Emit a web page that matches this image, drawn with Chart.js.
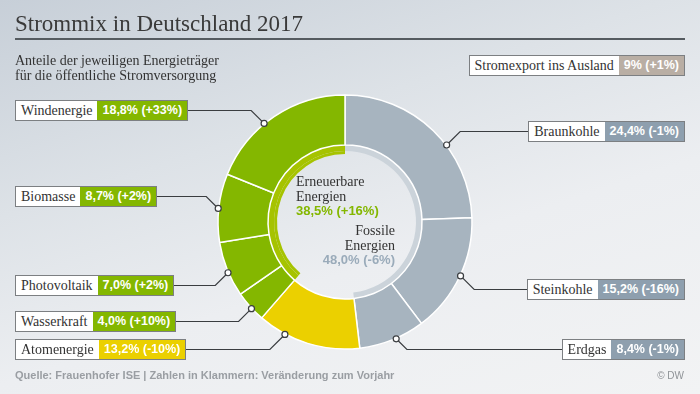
<!DOCTYPE html>
<html><head><meta charset="utf-8">
<script src="https://cdn.jsdelivr.net/npm/chart.js@4/dist/chart.umd.min.js"></script>
<style>
html,body{margin:0;padding:0;}
body{width:700px;height:394px;position:relative;overflow:hidden;
 background:linear-gradient(162deg,#c7cfd8 0%,#dde2e7 35%,#eceef1 62%,#f2f3f4 100%);
 font-family:"Liberation Serif",serif;color:#333;}
#c{position:absolute;left:0;top:0;}
.t{position:absolute;white-space:nowrap;}
#title{left:15px;top:12px;font-size:23px;line-height:23px;color:#3a3a3a;}
#rule{position:absolute;left:15px;top:38px;width:670px;height:2px;background:#555b60;}
#sub{left:15px;top:53px;font-size:14px;line-height:15px;color:#333;}
.box{position:absolute;height:21px;box-sizing:border-box;border:1px solid #7c7f82;display:flex;white-space:nowrap;}
.box .l{background:#fff;font-family:"Liberation Serif",serif;font-size:14px;line-height:19px;padding:0 5px;color:#333;}
.box .v{font-family:"Liberation Sans",Arial,sans-serif;font-weight:bold;font-size:12.5px;line-height:19px;padding:0 5px 0 5px;color:#fff;}
.ctr{position:absolute;white-space:nowrap;font-size:14px;line-height:14.5px;color:#333;}
.ctr .n{font-family:"Liberation Sans",Arial,sans-serif;font-weight:bold;font-size:13px;}
#foot{left:15px;top:370px;font-family:"Liberation Sans",Arial,sans-serif;font-weight:bold;font-size:11px;line-height:11px;color:#9a9ea3;}
#dw{right:16px;top:370px;font-family:"Liberation Sans",Arial,sans-serif;font-size:10px;line-height:11px;color:#8f9397;}
</style></head>
<body>
<canvas id="c" width="700" height="394"></canvas>
<div class="t" id="title">Strommix in Deutschland 2017</div>
<div id="rule"></div>
<div class="t" id="sub">Anteile der jeweiligen Energieträger<br>für die öffentliche Stromversorgung</div>
<div id="boxes"></div>
<div id="centers"></div>
<div class="t" id="foot">Quelle: Frauenhofer ISE | Zahlen in Klammern: Veränderung zum Vorjahr</div>
<div class="t" id="dw">© DW</div>
<script>
// ---- data ----
const categories = ['Braunkohle','Steinkohle','Erdgas','Atomenergie','Wasserkraft','Photovoltaik','Biomasse','Windenergie'];
const shares = [24.4, 15.2, 8.4, 13.2, 4.0, 7.0, 8.7, 18.8];
const changes = ['-1%','-16%','-1%','-10%','+10%','+2%','+2%','+33%'];
const groups = ['Fossile Energien','Atomenergie','Erneuerbare Energien'];
const groupShares = [48.0, 13.2, 38.5];
const groupChanges = ['-6%','-10%','+16%'];
const exportLabel = 'Stromexport ins Ausland';
const exportShare = 9;
const exportChange = '+1%';

// ---- styles / layout ----
const GREEN='#84b700', GREEN_L='#a6c300', GRAY='#a7b4bf', GRAY_L='#cbd3da', YELLOW='#ebd000';
const GRAY_BOX='#8e9fae', EXPORT_BOX='#b9aea4';
const sliceColors=[GRAY,GRAY,GRAY,YELLOW,GREEN,GREEN,GREEN,GREEN];
const boxColors=[GRAY_BOX,GRAY_BOX,GRAY_BOX,YELLOW,GREEN,GREEN,GREEN,GREEN];
const R_OUT=127, R_IN=68;
// side, top of box, anchor position along the slice (0..1)
const layout=[
 {side:'r',top:121,f:0.60},
 {side:'r',top:278.5,f:0.49},
 {side:'r',top:338.5,f:0.44},
 {side:'l',top:338.5,f:0.73},
 {side:'l',top:310.5,f:0.43},
 {side:'l',top:274.5,f:0.44},
 {side:'l',top:185.5,f:0.49},
 {side:'l',top:99.5,f:0.42}
];
const fmt=v=>v.toFixed(1).replace('.',',')+'%';

const boxesEl=document.getElementById('boxes');
categories.forEach((c,i)=>{
  const d=document.createElement('div');
  d.className='box'; d.id='box'+i;
  d.style.top=layout[i].top+'px';
  if(layout[i].side==='l') d.style.left='15px'; else d.style.right='15px';
  d.innerHTML='<span class="l">'+c+'</span><span class="v" style="background:'+boxColors[i]+'">'+fmt(shares[i])+' ('+changes[i]+')</span>';
  boxesEl.appendChild(d);
});
{
  const d=document.createElement('div');
  d.className='box'; d.style.top='55px'; d.style.right='15px';
  d.innerHTML='<span class="l">'+exportLabel+'</span><span class="v" style="background:'+EXPORT_BOX+'">'+exportShare+'% ('+exportChange+')</span>';
  boxesEl.appendChild(d);
}
const cEl=document.getElementById('centers');
cEl.innerHTML=
 '<div class="ctr" style="left:296px;top:175px;">'+groups[2].replace(' ','<br>')+'<br><span class="n" style="color:'+GREEN+'">'+fmt(groupShares[2])+' ('+groupChanges[2]+')</span></div>'+
 '<div class="ctr" style="right:305px;top:224px;text-align:right;">'+groups[0].replace(' ','<br>')+'<br><span class="n" style="color:#9aabba">'+fmt(groupShares[0])+' ('+groupChanges[0]+')</span></div>';

const leaderPlugin={
  id:'leaders',
  afterDraw(chart){
    const ctx=chart.ctx;
    const meta=chart.getDatasetMeta(0);
    meta.data.forEach((el,i)=>{
      const p=el.getProps(['x','y','startAngle','endAngle','outerRadius'],true);
      const a=p.startAngle+layout[i].f*(p.endAngle-p.startAngle);
      const px=p.x+Math.cos(a)*(p.outerRadius+0.5), py=p.y+Math.sin(a)*(p.outerRadius+0.5);
      const b=document.getElementById('box'+i);
      const by=b.offsetTop+b.offsetHeight/2;
      const left=layout[i].side==='l';
      const bx=left? b.offsetLeft+b.offsetWidth : b.offsetLeft;
      const dy=Math.abs(by-py);
      const ex=left? px-dy : px+dy;
      ctx.save();
      ctx.strokeStyle='#3a3d40'; ctx.lineWidth=1.2;
      ctx.beginPath(); ctx.moveTo(bx,by); ctx.lineTo(ex,by); ctx.lineTo(px,py); ctx.stroke();
      ctx.beginPath(); ctx.arc(px,py,3,0,Math.PI*2);
      ctx.fillStyle='#fff'; ctx.fill(); ctx.lineWidth=1.2; ctx.stroke();
      ctx.restore();
    });
  }
};

new Chart(document.getElementById('c'),{
  type:'doughnut',
  data:{
    labels:categories,
    datasets:[
      {data:shares,backgroundColor:sliceColors,borderColor:'#ffffff',borderWidth:1.5,weight:50},
      {data:groupShares,backgroundColor:[GRAY_L,'rgba(0,0,0,0)',GREEN_L],borderWidth:0,weight:6},
      {data:groupShares,backgroundColor:['rgba(0,0,0,0)','rgba(0,0,0,0)',GREEN_L],borderWidth:0,weight:3}
    ]
  },
  options:{
    responsive:false,animation:false,events:[],
    radius:R_OUT,cutout:(R_IN/R_OUT*100)+'%',
    layout:{padding:{left:0,right:10,top:50,bottom:0}},
    plugins:{legend:{display:false},tooltip:{enabled:false}}
  },
  plugins:[leaderPlugin]
});
</script>
</body></html>
